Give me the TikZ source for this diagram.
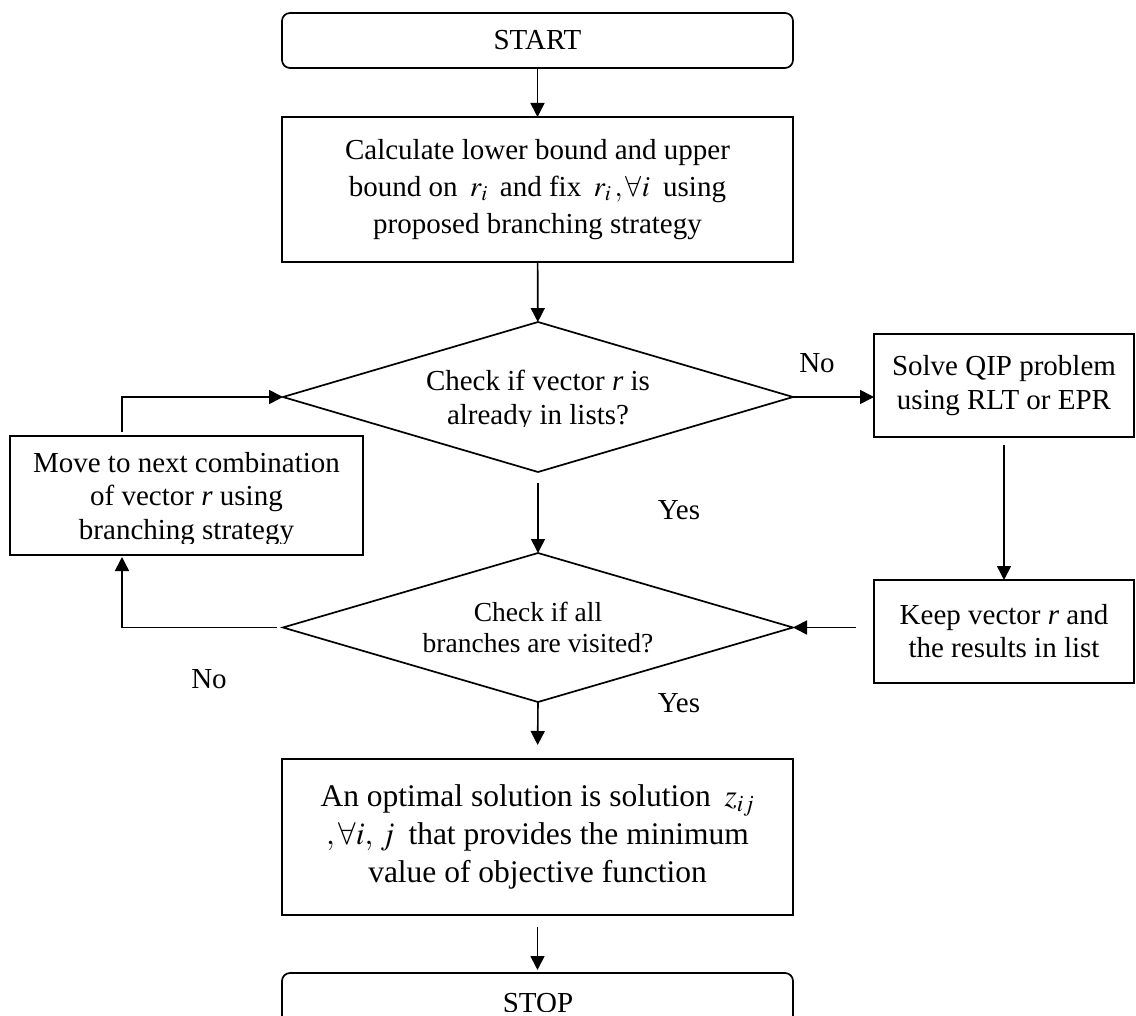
\documentclass[tikz,border=0pt]{standalone}
\usepackage{mathptmx}
\usepackage[no-math]{fontspec}
\setmainfont{Liberation Serif}
\usetikzlibrary{arrows.meta,shapes.geometric}
\tikzset{
 box/.style={draw, line width=1.7pt, rectangle, inner sep=0pt, outer sep=0pt, align=center, font=\fontsize{29pt}{34pt}\selectfont},
 rbox/.style={box, rounded corners=8pt},
 dec/.style={draw, line width=1.7pt, diamond, aspect=3.4, inner sep=0pt, outer sep=0pt, minimum width=510pt, minimum height=150pt},
 lbl/.style={inner sep=0pt, font=\fontsize{29pt}{34pt}\selectfont},
 txtb/.style={inner sep=0pt, align=center, font=\fontsize{29pt}{34pt}\selectfont},
 flow/.style={line width=1.6pt, -{Triangle[length=14pt,width=14pt]}},
}
\begin{document}
\begin{tikzpicture}[x=1pt,y=-1pt]
\useasboundingbox (0,0) rectangle (1136,1016);
\clip (0,0) rectangle (1136,1016);

% boxes
\node[rbox, minimum width=511pt, minimum height=55pt] (start) at (537.5,40.5) {START};
\node[box, minimum width=511pt, minimum height=145pt, font=\fontsize{29pt}{37pt}\selectfont] (calc) at (537.5,189.5)
  {Calculate lower bound and upper\\ bound on\hspace{5pt} $r_i$\hspace{5pt} and fix\hspace{5pt} $r_i\,,\forall i$\hspace{6pt} using\\ proposed branching strategy};
\node[dec] (d1) at (538,397) {};
\begin{scope}
 \clip (300,340) rectangle (780,427);
 \node[txtb] (d1t) at (538,400) {Check if vector \textit{r} is\\ already in lists?};
\end{scope}
\node[box, minimum width=260pt, minimum height=103pt] (solve) at (1004,385.5) {Solve QIP problem\\ using RLT or EPR};
\node[box, minimum width=260pt, minimum height=103pt, font=\fontsize{29pt}{33pt}\selectfont] (keep) at (1004,631.5) {Keep vector \textit{r} and\\ the results in list};
\node[box, minimum width=353pt, minimum height=119pt] (move) at (186.5,495.5) {};
\begin{scope}
 \clip (10,440) rectangle (363,543);
 \node[txtb, font=\fontsize{29pt}{33.5pt}\selectfont] (movet) at (186.5,499) {Move to next combination\\ of vector \textit{r} using\\ branching strategy};
\end{scope}
\node[dec, minimum height=149pt] (d2) at (538,627.5) {};
\node[txtb, font=\fontsize{27.5pt}{31pt}\selectfont] (d2t) at (538,628) {Check if all\\ branches are visited?};
\node[box, minimum width=511pt, minimum height=156pt, font=\fontsize{31.5pt}{38pt}\selectfont] (opt) at (537.5,837)
  {An optimal solution is solution\hspace{6pt} $z_{ij}$\\ $,\forall i,\, j$\hspace{6pt} that provides the minimum\\ value of objective function};
\node[rbox, minimum width=511pt, minimum height=67pt] (stop) at (537.5,1006.5) {};
\begin{scope}
 \clip (290,975) rectangle (780,1011);
 \node[txtb] (stopt) at (538,1003) {STOP};
\end{scope}

% labels
\node[lbl] (no1) at (817,363) {No};
\node[lbl] (yes1) at (679,510) {Yes};
\node[lbl] (yes2) at (679,703) {Yes};
\begin{scope}
 \clip (170,650) rectangle (250,688);
 \node[lbl] (no2) at (209,679) {No};
\end{scope}

% connectors
\coordinate (cx) at (122,0);
\draw[flow] (start) -- (calc);
\draw[flow] (calc) -- (d1);
\draw[flow] (d1.east) -- (d1.east -| solve.west);
\draw[flow, shorten <=8pt] (solve.south) -- (keep.north);
\draw[flow, shorten <=18pt] (keep.west |- d2.east) -- (d2.east);
\draw[flow, shorten <=11pt] (d1.south) -- (d2.north);
\draw[flow, shorten >=14pt] (d2.south) -- (opt.north);
\draw[flow, shorten <=12pt, shorten >=3pt] (opt.south) -- (stop.north);
\draw[flow, shorten <=6pt, shorten >=2pt] (d2.west) -| (cx |- move.south);
\draw[flow, shorten <=4pt] (cx |- move.north) |- (d1.west);
\end{tikzpicture}
\end{document}
